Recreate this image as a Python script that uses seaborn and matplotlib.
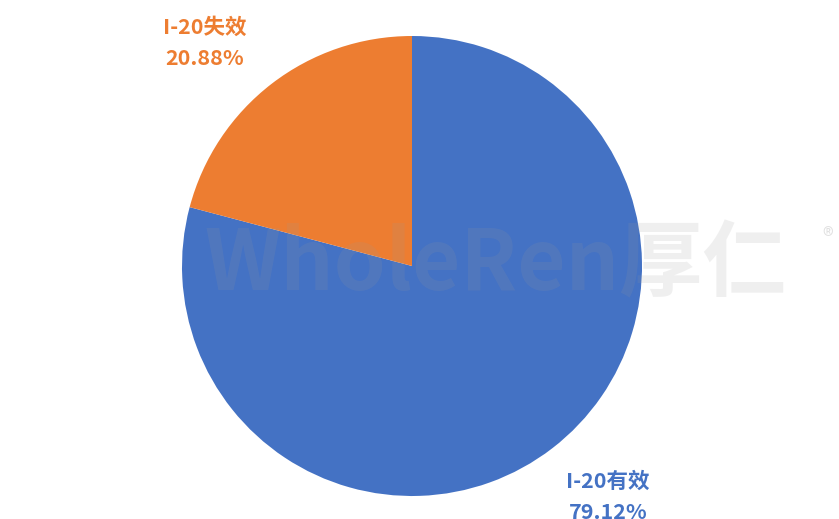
import matplotlib
matplotlib.use("Agg")
import matplotlib.pyplot as plt
import seaborn as sns

# pie data
labels = ["I-20有效", "I-20失效"]
shares = [79.12, 20.88]
colors = ["#4472C4", "#ED7D31"]

sns.set_theme(style="white")
plt.rcParams['font.family'] = ['Noto Sans CJK SC', 'DejaVu Sans']

fig = plt.figure(figsize=(8.39, 5.19), dpi=100)
ax = fig.add_axes([0, 0, 1, 1])

# pie centre at (412, 266) px, radius 230 px
r_px = 230.0
cx, cy = 412.0, 266.0
W, H = 839.0, 519.0


def px(x, y):
    # pixel (from top-left) -> data coords
    return (x - cx) / r_px, (cy - y) / r_px


wedges, texts = ax.pie(shares,
                       colors=colors,
                       startangle=90,
                       counterclock=False,
                       radius=1.0,
                       labels=[f"{l}\n{s:.2f}%" for l, s in zip(labels, shares)],
                       labeldistance=1.31,
                       wedgeprops={'linewidth': 0})

label_pos = [px(608, 497), px(205, 43)]
for t, c, p in zip(texts, colors, label_pos):
    t.set_color(c)
    t.set_fontsize(15.5)
    t.set_fontweight('bold')
    t.set_horizontalalignment('center')
    t.set_verticalalignment('center')
    t.set_linespacing(1.6)
    t.set_position(p)

# watermark
ax.text(*px(495, 266), "WholeRen厚仁", fontsize=60, fontweight='bold',
        color='#9a9a9a', alpha=0.15,
        ha='center', va='center', zorder=5)
ax.text(*px(828, 238), "®", fontsize=16,
        color='#9a9a9a', alpha=0.3, ha='center', va='center', zorder=5)

ax.set_xlim(-cx / r_px, (W - cx) / r_px)
ax.set_ylim(-(H - cy) / r_px, cy / r_px)
ax.set_aspect('auto')
ax.axis('off')

fig.savefig("out.png", dpi=100, facecolor='white')
